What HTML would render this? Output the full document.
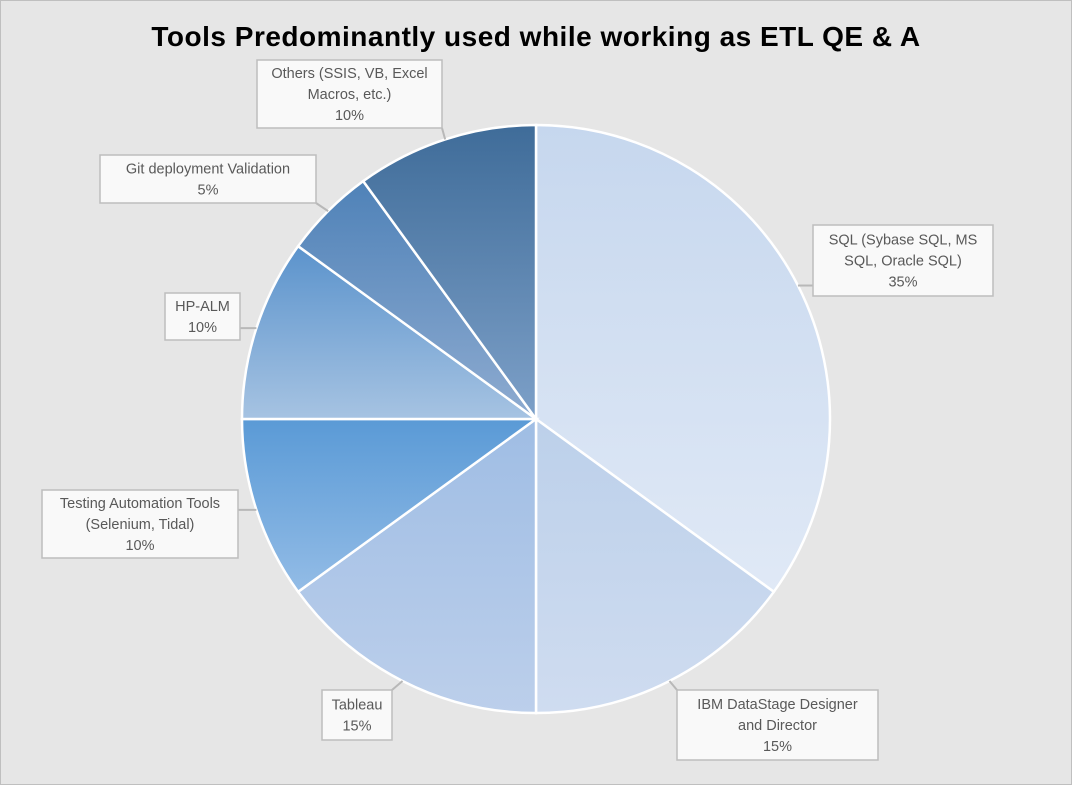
<!DOCTYPE html>
<html><head><meta charset="utf-8"><style>
body{margin:0;background:#fff;}
svg{display:block;font-family:"Liberation Sans",sans-serif;}
</style></head><body>
<svg width="1072" height="785" viewBox="0 0 1072 785">
<defs>
<linearGradient id="g0" x1="0" y1="0" x2="0" y2="1"><stop offset="0" stop-color="#c6d7ee"/><stop offset="1" stop-color="#e0e9f6"/></linearGradient>
<linearGradient id="g1" x1="0" y1="0" x2="0" y2="1"><stop offset="0" stop-color="#bcd0ea"/><stop offset="1" stop-color="#cfdcf0"/></linearGradient>
<linearGradient id="g2" x1="0" y1="0" x2="0" y2="1"><stop offset="0" stop-color="#9fbde4"/><stop offset="1" stop-color="#bccfeb"/></linearGradient>
<linearGradient id="g3" x1="0" y1="0" x2="0" y2="1"><stop offset="0" stop-color="#5a9ad6"/><stop offset="1" stop-color="#93bce6"/></linearGradient>
<linearGradient id="g4" x1="0" y1="0" x2="0" y2="1"><stop offset="0" stop-color="#5b93cc"/><stop offset="1" stop-color="#a6c3e2"/></linearGradient>
<linearGradient id="g5" x1="0" y1="0" x2="0" y2="1"><stop offset="0" stop-color="#4f82b8"/><stop offset="1" stop-color="#8eabd0"/></linearGradient>
<linearGradient id="g6" x1="0" y1="0" x2="0" y2="1"><stop offset="0" stop-color="#3f6c99"/><stop offset="1" stop-color="#7da0c8"/></linearGradient>
</defs>
<rect x="0.5" y="0.5" width="1071" height="784" fill="#e6e6e6" stroke="#bfbfbf"/>
<text x="536" y="46" text-anchor="middle" font-size="28" font-weight="bold" letter-spacing="0.5" fill="#000">Tools Predominantly used while working as ETL QE &amp; A</text>
<g id="slices"></g>
<g id="labels"></g>
</svg>
<script>
const categories=["SQL (Sybase SQL, MS SQL, Oracle SQL)","IBM DataStage Designer and Director","Tableau","Testing Automation Tools (Selenium, Tidal)","HP-ALM","Git deployment Validation","Others (SSIS, VB, Excel Macros, etc.)"];
const values=[35,15,15,10,10,5,10];
const labelLines=[["SQL (Sybase SQL, MS","SQL, Oracle SQL)"],["IBM DataStage Designer","and Director"],["Tableau"],["Testing Automation Tools","(Selenium, Tidal)"],["HP-ALM"],["Git deployment Validation"],["Others (SSIS, VB, Excel","Macros, etc.)"]];
const boxes=[[813,225,180,71],[677,690,201,70],[322,690,70,50],[42,490,196,68],[165,293,75,47],[100,155,216,48],[257,60,185,68]];
const NS="http://www.w3.org/2000/svg";
const cx=536,cy=419,R=294;
const total=values.reduce((a,b)=>a+b,0);
const sg=document.getElementById('slices'),lg=document.getElementById('labels');
function pt(a,r){return [cx+r*Math.sin(a),cy-r*Math.cos(a)];}
let acc=0;
values.forEach((v,i)=>{
  const a0=acc/total*2*Math.PI; acc+=v; const a1=acc/total*2*Math.PI;
  const p0=pt(a0,R),p1=pt(a1,R);
  const large=(a1-a0)>Math.PI?1:0;
  const p=document.createElementNS(NS,'path');
  p.setAttribute('d',`M${cx},${cy}L${p0[0]},${p0[1]}A${R},${R} 0 ${large} 1 ${p1[0]},${p1[1]}Z`);
  p.setAttribute('fill',`url(#g${i})`);
  p.setAttribute('stroke','#fff');p.setAttribute('stroke-width','2.5');
  
  
  sg.appendChild(p);
  const b=boxes[i];
  const am=(a0+a1)/2; const e=pt(am,R);
  const bx=Math.max(b[0],Math.min(b[0]+b[2],e[0])), by=Math.max(b[1],Math.min(b[1]+b[3],e[1]));
  const ln=document.createElementNS(NS,'line');
  ln.setAttribute('x1',bx);ln.setAttribute('y1',by);ln.setAttribute('x2',e[0]);ln.setAttribute('y2',e[1]);
  ln.setAttribute('stroke','#b8b8b8');ln.setAttribute('stroke-width','2');
  
  
  lg.appendChild(ln);
  const r=document.createElementNS(NS,'rect');
  r.setAttribute('x',b[0]);r.setAttribute('y',b[1]);r.setAttribute('width',b[2]);r.setAttribute('height',b[3]);
  r.setAttribute('fill','#f9f9f9');r.setAttribute('stroke','#bdbdbd');r.setAttribute('stroke-width','1.5');
  
  
  lg.appendChild(r);
  const lines=labelLines[i].concat([Math.round(v/total*100)+'%']);
  const lh=21, y0=b[1]+b[3]/2-(lines.length-1)*lh/2+5;
  lines.forEach((s,k)=>{
    const t=document.createElementNS(NS,'text');
    t.setAttribute('x',b[0]+b[2]/2);t.setAttribute('y',y0+k*lh);
    t.setAttribute('text-anchor','middle');t.setAttribute('font-size','14.5');t.setAttribute('fill','#595959');
    
    
    t.textContent=s;lg.appendChild(t);
  });
});
</script>
</body></html>
